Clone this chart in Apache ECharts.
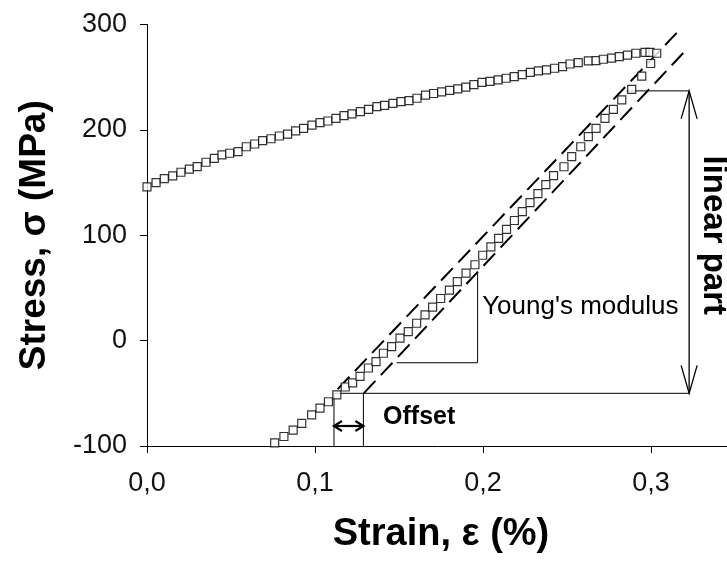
<!DOCTYPE html>
<html>
<head>
<meta charset="utf-8">
<script src="https://cdn.jsdelivr.net/npm/echarts@6/dist/echarts.min.js"></script>
<style>html,body{margin:0;padding:0;background:#fff;}#c{width:727px;height:563px;}</style>
</head>
<body>
<div id="c"></div>
<script>
// ---- data (strain %, stress MPa) ----
const upperBranch = [
 [0,146],[0.0054,150],[0.0103,153.7],[0.0153,156.3],[0.0202,159.8],[0.0252,162.8],[0.0299,165.1],[0.0351,169.3],[0.0401,173],[0.0446,176.2],
 [0.0492,177.8],[0.0542,179.3],[0.0591,184],[0.0641,186.6],[0.0688,189.8],[0.0738,191.6],[0.0788,194.2],[0.0837,196],[0.0885,199],[0.0932,201.5],
 [0.0982,204.6],[0.1030,206.8],[0.1077,208.4],[0.1125,211],[0.1173,213.5],[0.1220,215.1],[0.1270,217.3],[0.1319,219.5],[0.1369,222],[0.1414,223.3],
 [0.1464,225.2],[0.1512,226.8],[0.1560,227.7],[0.1607,230],[0.1658,233],
 [0.1706,234.5],[0.1754,236],[0.1802,237.5],[0.1850,239],[0.1898,240.5],[0.1946,243],[0.1994,245],[0.2042,246],[0.2090,247.5],[0.2138,249],
 [0.2186,250.5],[0.2234,252.5],[0.2282,254.5],[0.2330,256],[0.2378,257],[0.2426,258.5],
 [0.2474,260],[0.2518,262.5],[0.2567,263.8],[0.2627,265.4],[0.2673,265.7],[0.2716,267],[0.2766,268],[0.2811,269.5],[0.2860,271],[0.2910,272.7],
 [0.2964,273.6],[0.2994,273.6],[0.3034,272.7]
];
const lowerBranch = [
 [0.076,-97],[0.0815,-91],[0.087,-85],[0.0921,-78.5],[0.098,-70.5],[0.103,-64],[0.108,-58],[0.113,-51.5],[0.118,-44],[0.1224,-40],
 [0.1268,-34],[0.1318,-26],[0.1363,-20],[0.1407,-12],[0.1456,-5.7],[0.1506,2.3],[0.1555,8.5],[0.1605,16.5],[0.1655,24.4],[0.170,31.7],
 [0.1748,40],[0.180,48],[0.1847,56],[0.1899,64],[0.1952,72],[0.1998,81],[0.2047,89],[0.2093,97],[0.214,105.5],[0.2187,114],
 [0.2234,122.5],[0.228,131],[0.2327,139.5],[0.2374,148],[0.242,156.5],[0.2482,165],[0.2528,174.6],[0.2582,184],[0.2627,193.5],[0.2673,201.5],
 [0.2726,211],[0.2776,219.5],[0.2826,228.4],[0.2885,238.5],[0.2945,251],[0.2998,263]
];
const fitLine = [[0.1135,-46],[0.3153,292]];
const offsetLine = [[0.129,-50],[0.3192,273]];
const youngTriangle = [[0.1486,-21],[0.1968,-21],[0.1968,64]];
const offsetLeftTick = [[0.1113,-100],[0.1113,-50]];
const offsetRightTick = [[0.1288,-100],[0.1288,-50]];
const bottomGuide = [[0.1107,-50],[0.3227,-50]];
const topGuide = [[0.2855,237],[0.3227,237]];
const linearArrow = [[0.3227,237,0.3227,-50]];
const offsetArrow = [[0.1113,-81,0.1288,-81]];
const xTicks = [0, 0.1, 0.2, 0.3];
const yTicks = [-100, 0, 100, 200, 300];
const annotations = [
 {text: "Young's modulus", at: [0.1995, 32]},
 {text: "Offset", at: [0.1405, -73]},
 {text: "linear part", at: [0.3369, 100]}
];

const FONT = "'Liberation Sans', Arial, sans-serif";
const chart = echarts.init(document.getElementById('c'), null, {renderer: 'canvas'});

function lineSeries(data, dashed, width) {
  return {
    type: 'line', data: data, symbol: 'none', silent: true, animation: false,
    lineStyle: {color: '#000', width: width, type: dashed ? [17, 8] : 'solid'},
    z: 3
  };
}
function arrowSeries(data, headLen, headHalf, width) {
  return {
    type: 'custom', data: data, silent: true, animation: false, z: 4,
    renderItem: function (params, api) {
      const p1 = api.coord([api.value(0), api.value(1)]);
      const p2 = api.coord([api.value(2), api.value(3)]);
      const dx = p2[0] - p1[0], dy = p2[1] - p1[1];
      const len = Math.sqrt(dx * dx + dy * dy);
      const ux = dx / len, uy = dy / len, nx = -uy, ny = ux;
      const st = {stroke: '#000', lineWidth: width, fill: null};
      function head(t, sx, sy) {
        return {type: 'polyline', shape: {points: [
          [t[0] - sx * headLen + nx * headHalf, t[1] - sy * headLen + ny * headHalf],
          [t[0], t[1]],
          [t[0] - sx * headLen - nx * headHalf, t[1] - sy * headLen - ny * headHalf]
        ]}, style: st};
      }
      return {type: 'group', children: [
        {type: 'line', shape: {x1: p1[0], y1: p1[1], x2: p2[0], y2: p2[1]}, style: st},
        head(p2, ux, uy), head(p1, -ux, -uy)
      ]};
    }
  };
}
const textStyles = [
  {font: '26px ' + FONT, align: 'left', rot: 0},
  {font: 'bold 25px ' + FONT, align: 'left', rot: 0},
  {font: 'bold 33px ' + FONT, align: 'center', rot: -Math.PI / 2}
];
const textSeries = {
  type: 'custom', silent: true, animation: false, z: 5,
  data: annotations.map(a => a.at),
  renderItem: function (params, api) {
    const p = api.coord([api.value(0), api.value(1)]);
    const s = textStyles[params.dataIndex];
    return {type: 'text', x: p[0], y: p[1], rotation: s.rot,
      style: {text: annotations[params.dataIndex].text, font: s.font, fill: '#000', align: s.align, verticalAlign: 'middle'}};
  }
};

const axisCommon = {
  axisLine: {show: true, onZero: false, lineStyle: {color: '#000', width: 1}},
  axisTick: {show: true, inside: false, length: 7, lineStyle: {color: '#000', width: 1}},
  splitLine: {show: false}
};

chart.setOption({
  animation: false,
  backgroundColor: '#fff',
  grid: {left: 147, right: -8, top: 24.5, bottom: 117, containLabel: false, outerBoundsMode: 'none'},
  xAxis: Object.assign({}, axisCommon, {
    type: 'value', min: xTicks[0], max: 0.35, interval: 0.1,
    name: 'Strain, \u03b5 (%)', nameLocation: 'middle', nameGap: 70,
    nameTextStyle: {fontFamily: FONT, fontWeight: 'bold', fontSize: 38, color: '#000'},
    axisLabel: {show: true, margin: 24, fontFamily: FONT, fontSize: 27, color: '#111', showMaxLabel: false,
      formatter: v => xTicks.some(t => Math.abs(t - v) < 1e-9) ? v.toFixed(1).replace('.', ',') : ''}
  }),
  yAxis: Object.assign({}, axisCommon, {
    type: 'value', min: yTicks[0], max: yTicks[yTicks.length - 1], interval: 100,
    name: 'Stress, \u03c3 (MPa)', nameLocation: 'middle', nameGap: 94, nameRotate: 90,
    nameTextStyle: {fontFamily: FONT, fontWeight: 'bold', fontSize: 37, color: '#000'},
    axisLabel: {show: true, margin: 20, fontFamily: FONT, fontSize: 27, color: '#111', formatter: v => String(v)}
  }),
  series: [
    lineSeries(fitLine, true, 2),
    lineSeries(offsetLine, true, 2),
    lineSeries(youngTriangle, false, 1),
    lineSeries(offsetLeftTick, false, 1),
    lineSeries(offsetRightTick, false, 1),
    lineSeries(bottomGuide, false, 1),
    lineSeries(topGuide, false, 1),
    arrowSeries(linearArrow, 28, 8, 1.3),
    arrowSeries(offsetArrow, 8, 5, 2.2),
    {type: 'scatter', data: upperBranch, symbol: 'rect', symbolSize: 8, animation: false, z: 6,
      itemStyle: {color: '#fff', borderColor: '#000', borderWidth: 1.2}},
    {type: 'scatter', data: lowerBranch, symbol: 'rect', symbolSize: 8, animation: false, z: 6,
      itemStyle: {color: '#fff', borderColor: '#000', borderWidth: 1.2}},
    textSeries
  ]
});
</script>
</body>
</html>
